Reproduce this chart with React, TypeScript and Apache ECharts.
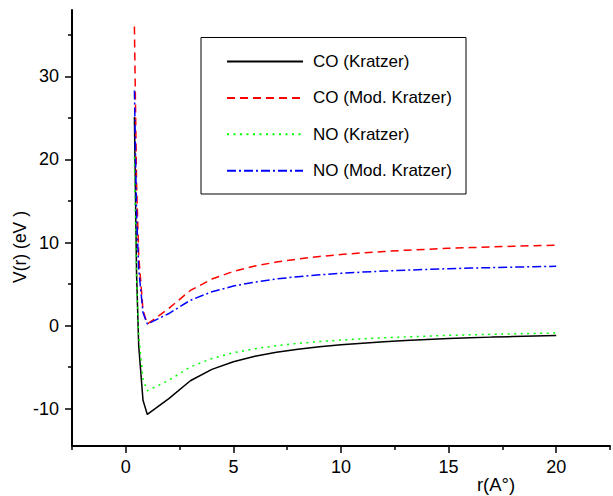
import React, { useEffect, useRef } from "react";
import * as echarts from "echarts";

const rValues = [0.4, 0.5, 0.6, 0.8, 1, 2, 3, 4, 5, 6, 7, 8, 9, 10, 11, 12, 13, 14, 15, 16, 17, 18, 19, 20];
const coKratzer = [25.1, 6.3, -2.45, -9.0, -10.7, -8.8, -6.64, -5.27, -4.35, -3.7, -3.22, -2.85, -2.55, -2.31, -2.12, -1.95, -1.8, -1.68, -1.57, -1.48, -1.39, -1.32, -1.25, -1.19];
const coModKratzer = [36.0, 17.15, 8.42, 1.83, 0.18, 2.07, 4.23, 5.6, 6.52, 7.17, 7.65, 8.02, 8.32, 8.56, 8.76, 8.92, 9.07, 9.19, 9.3, 9.39, 9.48, 9.55, 9.62, 9.68];
const noKratzer = [20.27, 5.58, -1.26, -6.48, -7.85, -6.58, -4.98, -3.96, -3.27, -2.79, -2.42, -2.14, -1.92, -1.74, -1.59, -1.47, -1.36, -1.27, -1.18, -1.11, -1.05, -0.99, -0.94, -0.9];
const noModKratzer = [28.3, 13.61, 6.77, 1.55, 0.18, 1.45, 3.05, 4.07, 4.76, 5.24, 5.61, 5.89, 6.11, 6.29, 6.44, 6.56, 6.67, 6.76, 6.85, 6.92, 6.98, 7.04, 7.09, 7.13];
const seriesNames = ["CO (Kratzer)", "CO (Mod. Kratzer)", "NO (Kratzer)", "NO (Mod. Kratzer)"];
const xMajorTicks = [0, 5, 10, 15, 20];
const xMinorTicks = [-2.5, 2.5, 7.5, 12.5, 17.5, 22.5];
const yMajorTicks = [-10, 0, 10, 20, 30];
const yMinorTicks = [-5, 5, 15, 25, 35];

const FONT = "'Liberation Sans', Arial, Helvetica, sans-serif";

export default function App() {
  const ref = useRef<HTMLDivElement>(null);
  useEffect(() => {
    if (!ref.current) return;
    const chart = echarts.init(ref.current, undefined, { renderer: "svg" });
    const pair = (vals: number[]) => rValues.map((r, i) => [r, vals[i]]);
    const mk = (name: string, vals: number[], color: string, type: any) => ({
      name,
      type: "line",
      data: pair(vals),
      showSymbol: false,
      symbol: "none",
      xAxisIndex: 0,
      yAxisIndex: 0,
      lineStyle: { color, width: 1.5, type, cap: "butt" },
      itemStyle: { color },
    });
    const axisLine = { show: true, onZero: false, lineStyle: { color: "#000", width: 2 } };
    chart.setOption({
      animation: false,
      grid: { left: 72, top: 10, right: 3, bottom: 50, containLabel: false },
      xAxis: [
        {
          type: "value",
          min: -2.5,
          max: 22.5,
          position: "bottom",
          axisLine,
          splitLine: { show: false },
          axisTick: { show: true, customValues: xMajorTicks, length: 7, lineStyle: { color: "#000", width: 1.5 } },
          axisLabel: { customValues: xMajorTicks, margin: 12, fontSize: 18, color: "#000", fontFamily: FONT },
        },
        {
          type: "value",
          min: -2.5,
          max: 22.5,
          position: "bottom",
          offset: 0,
          axisLine: { show: false, onZero: false },
          splitLine: { show: false },
          axisTick: { show: true, customValues: xMinorTicks, length: 4, lineStyle: { color: "#000", width: 1.5 } },
          axisLabel: { show: false },
        },
      ],
      yAxis: [
        {
          type: "value",
          min: -14.5,
          max: 38,
          position: "left",
          axisLine,
          splitLine: { show: false },
          axisTick: { show: true, customValues: yMajorTicks, length: 7, lineStyle: { color: "#000", width: 1.5 } },
          axisLabel: { customValues: yMajorTicks, margin: 13, fontSize: 18, color: "#000", fontFamily: FONT },
        },
        {
          type: "value",
          min: -14.5,
          max: 38,
          position: "left",
          offset: 0,
          axisLine: { show: false, onZero: false },
          splitLine: { show: false },
          axisTick: { show: true, customValues: yMinorTicks, length: 4, lineStyle: { color: "#000", width: 1.5 } },
          axisLabel: { show: false },
        },
      ],
      legend: {
        orient: "vertical",
        left: 226,
        top: 53,
        padding: 0,
        itemWidth: 76,
        itemHeight: 14,
        itemGap: 19.4,
        data: seriesNames,
        itemStyle: { opacity: 0 },
        textStyle: { fontSize: 17, color: "#000", fontFamily: FONT, padding: [0, 0, 0, 5] },
      },
      graphic: [
        {
          type: "rect",
          shape: { x: 201, y: 37.5, width: 265, height: 156.5 },
          style: { fill: "none", stroke: "#000", lineWidth: 1 },
          silent: true,
        },
        {
          type: "text",
          x: 20,
          y: 247,
          rotation: Math.PI / 2,
          style: { text: "V(r) (eV )", fontSize: 17.5, fontFamily: FONT, fill: "#000", textAlign: "center", textVerticalAlign: "middle" },
        },
        {
          type: "text",
          x: 496,
          y: 484,
          style: { text: "r(A°)", fontSize: 18.5, fontFamily: FONT, fill: "#000", textAlign: "center", textVerticalAlign: "middle" },
        },
      ],
      series: [
        mk(seriesNames[0], coKratzer, "#000000", "solid"),
        mk(seriesNames[1], coModKratzer, "#ff0000", [8, 5]),
        mk(seriesNames[2], noKratzer, "#00ff00", [2, 4.5]),
        mk(seriesNames[3], noModKratzer, "#0000ff", [9, 3, 2, 3]),
      ],
    });
    return () => chart.dispose();
  }, []);
  return <div ref={ref} style={{ width: 613, height: 496, position: "absolute", left: 0, top: 0 }} />;
}
